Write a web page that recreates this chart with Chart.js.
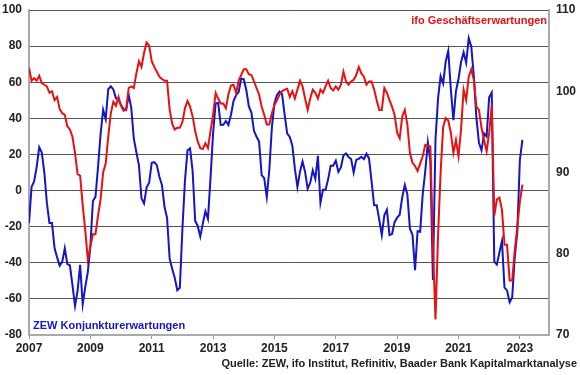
<!DOCTYPE html>
<html>
<head>
<meta charset="utf-8">
<script src="https://cdn.jsdelivr.net/npm/chart.js@4.4.0/dist/chart.umd.min.js"></script>
<style>
  html, body { margin: 0; padding: 0; background: #fff; }
  #c { display: block; }
</style>
</head>
<body>
<canvas id="c" width="580" height="375"></canvas>
<script>
// monthly values, Jan 2007 .. Feb 2023
const startYear = 2007;

// ZEW Konjunkturerwartungen (left axis)
const zew = [
  -18, 2, 5, 13, 24, 21, 10, -7, -18, -18, -32, -37,              // 2007
  -41.6, -39.5, -32, -40.7, -41.4, -52.4, -63.9, -55.5, -41.1, -63, -53.5, -45.2, // 2008
  -31, -5.8, -3.5, 13, 31.1, 44.8, 39.5, 56.1, 57.7, 56, 51.1, 50.4, // 2009
  47.2, 45.1, 44.5, 53, 45.8, 28.7, 21.2, 14, -4.3, -7.2, 1.8, 4.3,  // 2010
  15.4, 15.7, 14.1, 7.6, 3.1, -9, -15.1, -37.6, -43.3, -48.3, -55.2, -53.8, // 2011
  -21.6, 5.4, 22.3, 23.4, 10.8, -16.9, -19.6, -25.5, -18.2, -11.5, -15.7, 6.9, // 2012
  31.5, 48.2, 48.5, 36.3, 36.4, 38.5, 36.3, 42, 49.6, 52.8, 54.6, 62, // 2013
  61.7, 55.7, 46.6, 43.2, 33.1, 29.8, 27.1, 8.6, 6.9, -3.6, 11.5, 34.9, // 2014
  48.4, 53, 54.8, 53.3, 41.9, 31.5, 29.7, 25, 12.1, 1.9, 10.4, 16.1, // 2015
  10.2, 1, 4.3, 11.2, 6.4, 19.2, -6.8, 0.5, 0.5, 6.2, 13.8, 13.8,   // 2016
  16.6, 10.4, 12.8, 19.5, 20.6, 18.6, 17.5, 10, 17, 17.6, 18.7, 17.4, // 2017
  20.4, 17.8, 5.1, -8.2, -8.2, -16.1, -24.7, -13.7, -10.6, -24.7, -24.1, -17.5, // 2018
  -15, -13.4, -3.6, 3.1, -2.1, -21.1, -24.5, -44.1, -22.5, -22.8, -2.1, 10.7, // 2019
  26.7, 16, -49.5, 28.2, 51, 63.4, 59.3, 71.5, 77.4, 56.1, 39, 55,  // 2020
  61.8, 71.2, 76.6, 70.7, 84.4, 79.8, 63.3, 40.4, 26.5, 22.3, 31.7, 29.9, // 2021
  51.7, 54.3, -39.3, -41, -34.3, -28, -53.8, -55.3, -61.9, -59.2, -36.7, -23.3, // 2022
  16.9, 28.1                                                        // 2023
];

// ifo Geschäftserwartungen (right axis)
const ifo = [
  102.9, 101.3, 101.6, 101.3, 101.9, 101.0, 100.8, 100.6, 99.8, 100.0, 98.9, 99.3, // 2007
  97.8, 97.3, 97.1, 95.7, 95.3, 94.4, 92.4, 89.8, 89.6, 86.0, 82.9, 79.3,       // 2008
  80.9, 82.4, 82.4, 84.7, 86.7, 90.0, 91.1, 94.4, 97.3, 98.7, 98.2, 99.3,       // 2009
  98.2, 97.6, 97.8, 100.4, 100.6, 100.4, 102.2, 103.7, 103.0, 104.7, 106.0, 105.6, // 2010
  103.7, 103.0, 102.4, 101.8, 101.5, 101.3, 101.3, 97.8, 96.0, 95.3, 95.5, 95.5, // 2011
  96.2, 97.9, 98.8, 98.1, 96.9, 95.1, 93.8, 93.0, 92.9, 93.6, 93.0, 95.1,       // 2012
  97.1, 99.8, 99.1, 98.5, 98.5, 97.9, 99.6, 100.7, 100.8, 99.8, 101.3, 102.0,    // 2013
  102.7, 102.7, 102.1, 102.0, 101.2, 100.4, 99.6, 98.1, 97.1, 95.9, 95.9, 97.3,  // 2014
  98.3, 98.9, 99.6, 100.0, 100.2, 100.3, 99.3, 100.0, 99.1, 100.2, 101.3, 100.6, // 2015
  99.1, 97.7, 99.1, 100.2, 99.8, 99.1, 100.2, 99.8, 100.6, 101.3, 100.4, 100.1,  // 2016
  100.6, 100.2, 100.8, 102.4, 101.2, 100.8, 101.2, 101.4, 102.0, 103.0, 102.2, 101.8, // 2017
  100.8, 101.2, 101.2, 100.2, 98.9, 97.7, 97.7, 100.4, 99.8, 98.9, 98.1, 97.1,   // 2018
  94.9, 94.2, 96.9, 97.7, 95.9, 92.4, 91.2, 90.8, 90.2, 91.1, 92.0, 93.4,       // 2019
  93.3, 93.2, 81.1, 71.9, 82.2, 90.0, 95.6, 96.7, 96.4, 94.9, 92.4, 94.0,       // 2020
  92.0, 95.3, 100.2, 98.9, 101.8, 102.7, 101.4, 98.1, 97.7, 95.5, 94.0, 92.6,    // 2021
  94.9, 98.3, 84.7, 86.7, 86.9, 85.4, 81.1, 81.1, 76.7, 76.7, 80.4, 83.3,       // 2022
  86.4, 88.5                                                                    // 2023
];

const xTicks = [2007, 2009, 2011, 2013, 2015, 2017, 2019, 2021, 2023];
const leftTicks = [-80, -60, -40, -20, 0, 20, 40, 60, 80, 100];
const rightTicks = [70, 80, 90, 100, 110];

const toPoints = arr => arr.map((v, i) => ({ x: startYear + i / 12, y: v }));

const tickFont = { family: 'Liberation Sans, Arial, sans-serif', size: 12, weight: 'bold' };
// small line height on the value axes so the top of the plot sits at y = 10
const yTickFont = { family: 'Liberation Sans, Arial, sans-serif', size: 12, weight: 'bold', lineHeight: 0.5 };

const textLabels = {
  id: 'textLabels',
  afterDraw(chart) {
    const ctx = chart.ctx;
    ctx.save();
    ctx.font = 'bold 11px "Liberation Sans", Arial, sans-serif';
    ctx.textBaseline = 'alphabetic';
    ctx.fillStyle = '#e81010';
    ctx.textAlign = 'right';
    ctx.fillText('ifo Geschäftserwartungen', 547, 24);
    ctx.fillStyle = '#1414c8';
    ctx.textAlign = 'left';
    ctx.fillText('ZEW Konjunkturerwartungen', 33, 329);
    ctx.fillStyle = '#222';
    ctx.textAlign = 'right';
    ctx.fillText('Quelle: ZEW, ifo Institut, Refinitiv, Baader Bank Kapitalmarktanalyse', 577, 367);
    ctx.restore();
  }
};

new Chart(document.getElementById('c'), {
  type: 'line',
  data: {
    datasets: [
      {
        label: 'ifo Geschäftserwartungen',
        data: toPoints(ifo),
        yAxisID: 'y1',
        borderColor: '#e81010',
        borderWidth: 2,
        pointRadius: 0,
        tension: 0
      },
      {
        label: 'ZEW Konjunkturerwartungen',
        data: toPoints(zew),
        yAxisID: 'y',
        borderColor: '#1414c8',
        borderWidth: 2,
        pointRadius: 0,
        tension: 0
      }
    ]
  },
  options: {
    responsive: false,
    animation: false,
    devicePixelRatio: 1,
    layout: { padding: { top: 10, left: 0, right: 0, bottom: 0 } },
    plugins: { legend: { display: false }, tooltip: { enabled: false } },
    scales: {
      x: {
        type: 'linear',
        min: 2007,
        max: 2023.95,
        afterBuildTicks: s => { s.ticks = xTicks.map(v => ({ value: v })); },
        afterFit: s => { s.height = 40; },
        ticks: { font: tickFont, color: '#222', padding: 2, maxRotation: 0, autoSkip: false, callback: v => String(v) },
        grid: { drawOnChartArea: false, drawTicks: true, tickLength: 4, color: '#999' },
        border: { color: '#aaa', width: 2 }
      },
      y: {
        position: 'left',
        min: -80,
        max: 100,
        afterBuildTicks: s => { s.ticks = leftTicks.map(v => ({ value: v })); },
        afterFit: s => { s.width = 29; },
        ticks: { font: yTickFont, color: '#222', padding: 7 },
        grid: { color: '#555', lineWidth: 1, drawTicks: false },
        border: { color: '#aaa', width: 2 }
      },
      y1: {
        position: 'right',
        min: 70,
        max: 110,
        afterBuildTicks: s => { s.ticks = rightTicks.map(v => ({ value: v })); },
        afterFit: s => { s.width = 31; },
        ticks: { font: yTickFont, color: '#222', padding: 7 },
        grid: { drawOnChartArea: false, drawTicks: false },
        border: { color: '#aaa', width: 2 }
      }
    }
  },
  plugins: [textLabels]
});
</script>
</body>
</html>
